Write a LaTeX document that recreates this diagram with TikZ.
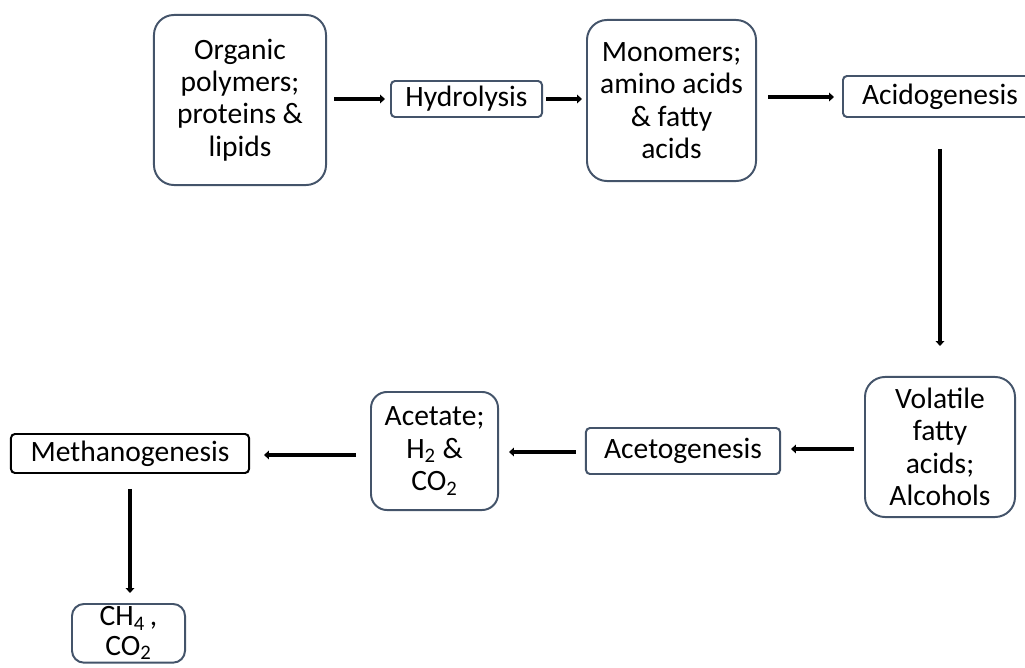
\documentclass[tikz,border=0pt]{standalone}
\usepackage{fontspec}
\setmainfont{Carlito}
\usepackage{tikz}
\usetikzlibrary{arrows.meta, positioning}
\definecolor{frame}{RGB}{68,84,106}

\begin{document}
\begin{tikzpicture}[x=0.025cm, y=-0.025cm,
  font=\fontsize{21}{23}\selectfont,
  blob/.style={draw=frame, line width=1.4pt, rounded corners=0.5cm, align=center,
               inner sep=0pt},
  stage/.style={draw=frame, line width=1.4pt, rounded corners=0.1cm, align=center,
                inner sep=0pt},
  edge/.style={-{Triangle[length=1.2mm, width=2.1mm]}, line width=2.3pt}]
  \useasboundingbox (0,0) rectangle (1025,668);
  % top row
  \node[blob, minimum width=4.3cm, minimum height=4.25cm] (org) at (240,100)
    {Organic\\polymers;\\proteins \&\\lipids};
  \node[stage, minimum width=3.775cm, minimum height=0.9cm] (hyd) at (466.5,99) {Hydrolysis};
  \node[blob, minimum width=4.225cm, minimum height=4.025cm] (mono) at (671.5,100.5)
    {Monomers;\\amino acids\\\& fatty\\acids};
  \node[stage, minimum width=4.85cm, minimum height=1.025cm] (acid) at (940,96.5) {Acidogenesis};
  % bottom row
  \node[blob, minimum width=3.75cm, minimum height=3.5cm] (vfa) at (940,447)
    {Volatile\\fatty\\acids;\\Alcohols};
  \node[stage, minimum width=4.85cm, minimum height=1.15cm] (aceto) at (683,451) {Acetogenesis};
  \node[blob, rounded corners=0.4cm, minimum width=3.175cm, minimum height=2.95cm] (acet) at (434.5,451)
    {Acetate;\\H\textsubscript{2} \&\\CO\textsubscript{2}};
  \node[stage, draw=black, minimum width=5.95cm, minimum height=0.975cm] (meth) at (130,453.5) {Methanogenesis};
  \node[stage, rounded corners=0.3cm, anchor=north, minimum width=2.825cm, inner ysep=2pt,
        font=\fontsize{21}{21}\selectfont] (gas) at (128.5,603)
    {CH\textsubscript{4}\,,\\CO\textsubscript{2}};
  % arrows
  \draw[edge, shorten <=0.175cm, shorten >=0.125cm] (org.east |- hyd) -- (hyd);
  \draw[edge, shorten <=0.075cm, shorten >=0.1cm] (hyd) -- (mono.west |- hyd);
  \draw[edge, shorten <=0.275cm, shorten >=0.2cm] (mono.east |- 0,97) -- (acid.west |- 0,97);
  \draw[edge, shorten <=0.775cm, shorten >=0.75cm] (acid) -- (vfa);
  \draw[edge, shorten <=0.25cm, shorten >=0.25cm] (vfa.west |- 0,449) -- (aceto.east |- 0,449);
  \draw[edge, shorten <=0.225cm, shorten >=0.25cm] (aceto.west |- 0,452) -- (acet.east |- 0,452);
  \draw[edge, shorten <=0.35cm, shorten >=0.35cm] (acet.west |- 0,455) -- (meth.east |- 0,455);
  \draw[edge, shorten <=0.375cm, shorten >=0.25cm] (meth.south -| 130,0) -- (gas.north -| 130,0);
\end{tikzpicture}
\end{document}
